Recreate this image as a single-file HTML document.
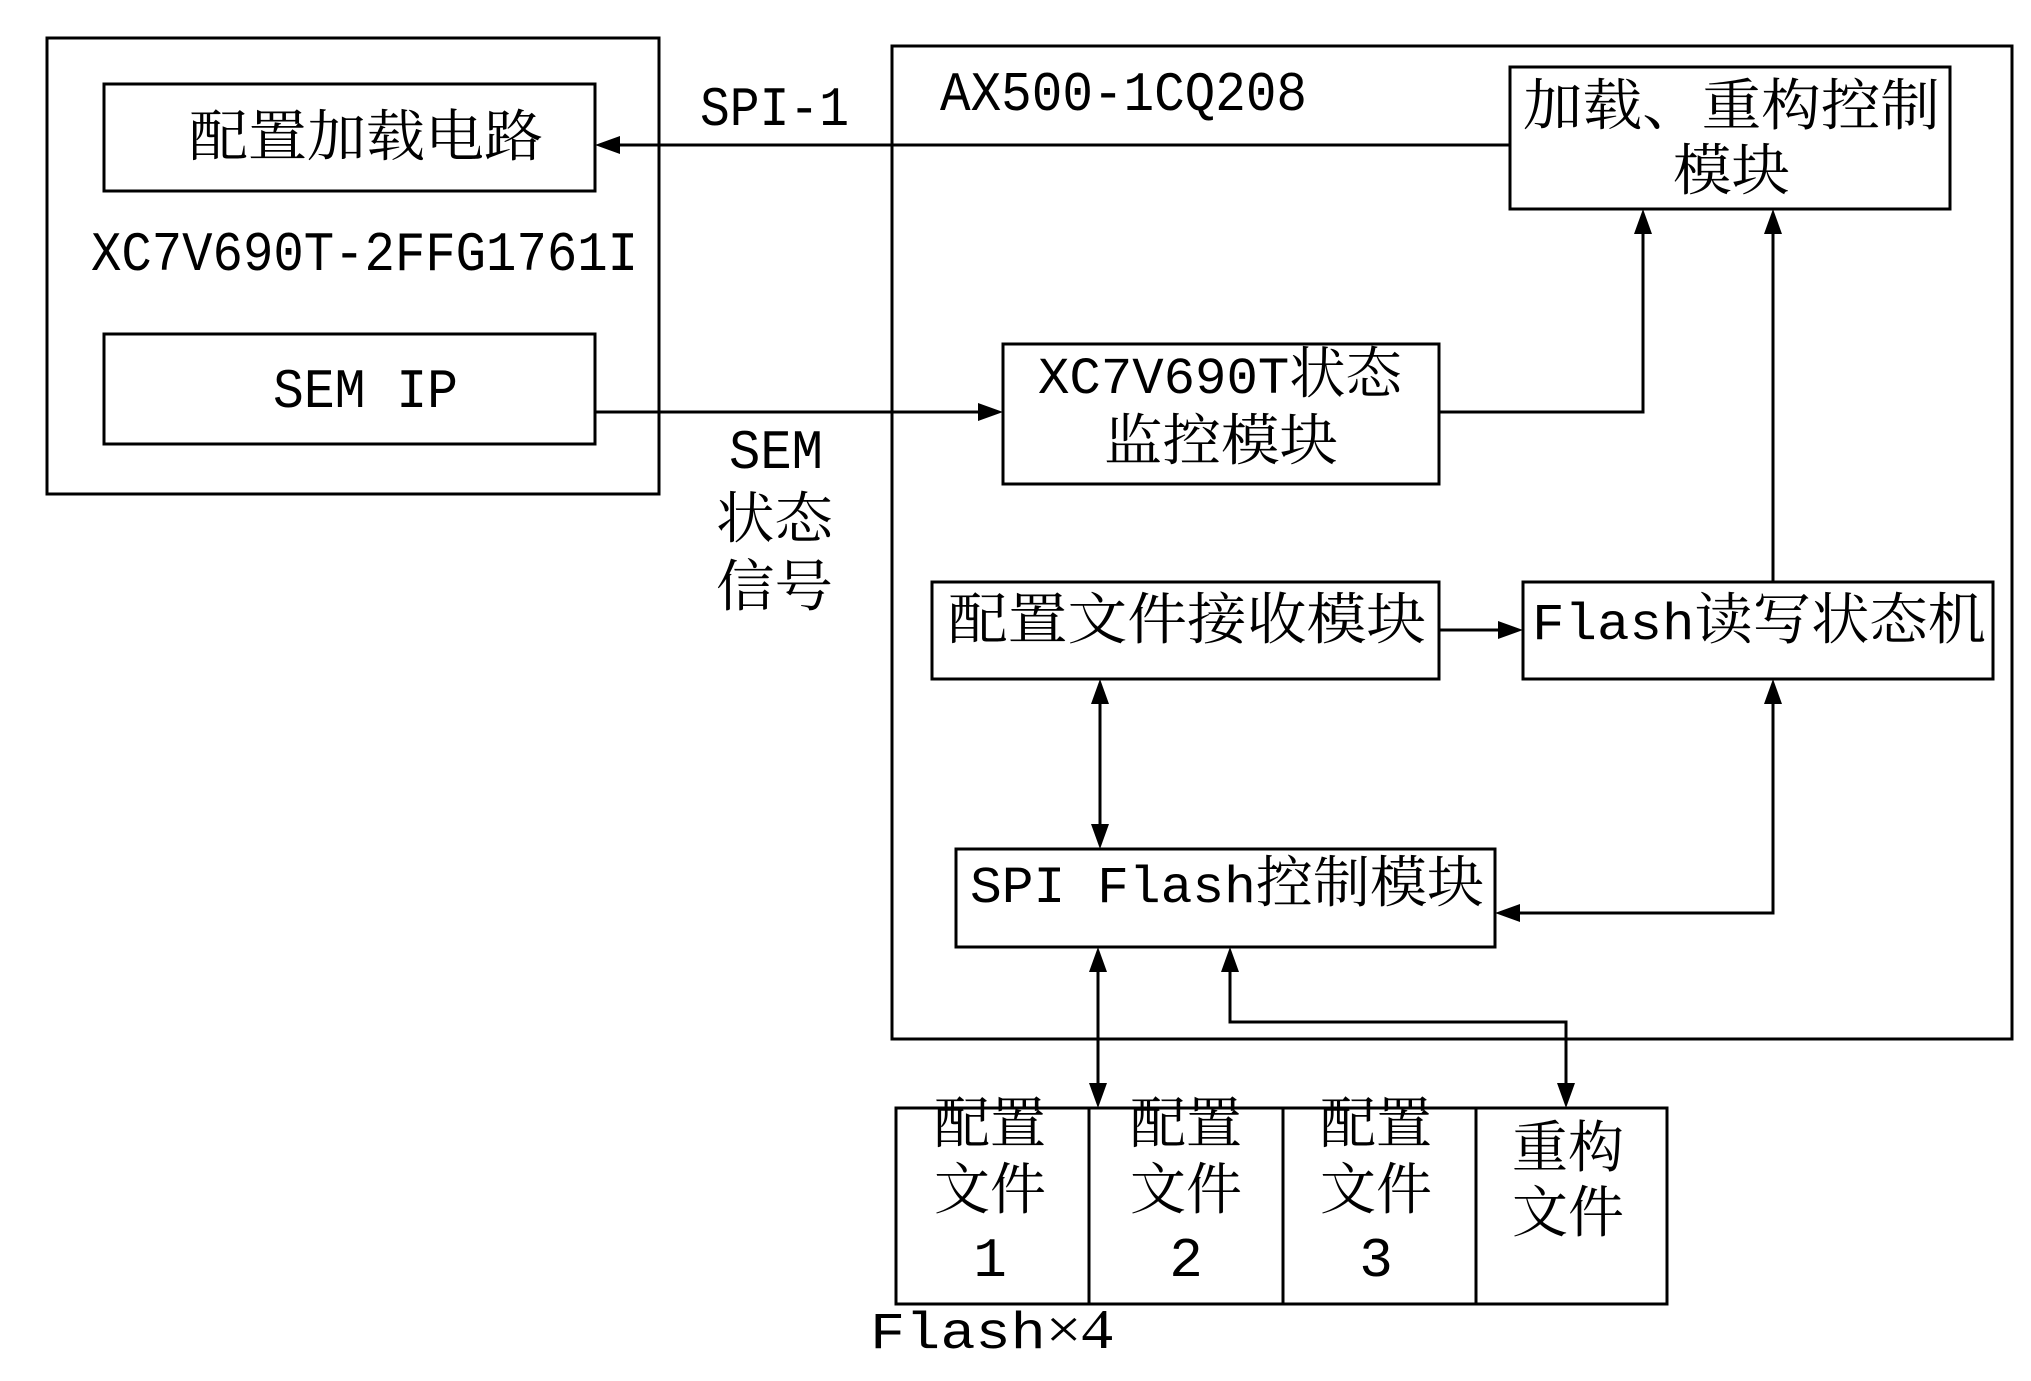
<!DOCTYPE html>
<html><head><meta charset="utf-8"><style>
html,body{margin:0;padding:0;background:#fff;}
svg{display:block;}
text{font-family:"Liberation Serif","Noto Serif CJK SC","Noto Sans CJK SC",serif;font-size:56px;fill:#000;}
.m{font-family:"Liberation Mono","Noto Serif CJK SC","Noto Sans CJK SC",monospace;}
</style></head><body>
<svg width="2031" height="1381" viewBox="0 0 2031 1381" xmlns="http://www.w3.org/2000/svg">
<defs>
<marker id="a" markerWidth="10" markerHeight="8" refX="10" refY="4" orient="auto-start-reverse" markerUnits="userSpaceOnUse" viewBox="0 0 10 8" style="overflow:visible">
</marker>
</defs>
<g fill="none" stroke="#000" stroke-width="3">
<rect x="47" y="38" width="612" height="456"/>
<rect x="104" y="84" width="491" height="107"/>
<rect x="104" y="334" width="491" height="110"/>
<rect x="892" y="46" width="1120" height="993"/>
<rect x="1510" y="67" width="440" height="142"/>
<rect x="1003" y="344" width="436" height="140"/>
<rect x="932" y="582" width="507" height="97"/>
<rect x="1523" y="582" width="470" height="97"/>
<rect x="956" y="849" width="539" height="98"/>
<rect x="896" y="1108" width="771" height="196"/>
<line x1="1089" y1="1108" x2="1089" y2="1304"/>
<line x1="1283" y1="1108" x2="1283" y2="1304"/>
<line x1="1476" y1="1108" x2="1476" y2="1304"/>
<!-- connectors -->
<polyline points="1510,145 615,145"/>
<polyline points="595,412 983,412"/>
<polyline points="1439,412 1643,412 1643,229"/>
<polyline points="1773,582 1773,229"/>
<polyline points="1439,630 1503,630"/>
<polyline points="1100,699 1100,829"/>
<polyline points="1773,699 1773,913 1515,913"/>
<polyline points="1098,967 1098,1088"/>
<polyline points="1230,967 1230,1022 1566,1022 1566,1088"/>
</g>
<g fill="#000">
<polygon points="595,145 620,136 620,154"/>
<polygon points="1003,412 978,403 978,421"/>
<polygon points="1643,209 1634,234 1652,234"/>
<polygon points="1773,209 1764,234 1782,234"/>
<polygon points="1523,630 1498,621 1498,639"/>
<polygon points="1100,679 1091,704 1109,704"/>
<polygon points="1100,849 1091,824 1109,824"/>
<polygon points="1773,679 1764,704 1782,704"/>
<polygon points="1495,913 1520,904 1520,922"/>
<polygon points="1098,947 1089,972 1107,972"/>
<polygon points="1098,1108 1089,1083 1107,1083"/>
<polygon points="1230,947 1221,972 1239,972"/>
<polygon points="1566,1108 1557,1083 1575,1083"/>
</g>
<g>
<text x="189" y="156" textLength="354" lengthAdjust="spacingAndGlyphs">配置加载电路</text>
<text class="m" x="91" y="270" font-size="52" textLength="547" lengthAdjust="spacingAndGlyphs">XC7V690T-2FFG1761I</text>
<text class="m" x="273" y="407" font-size="52" textLength="185" lengthAdjust="spacingAndGlyphs">SEM IP</text>
<text class="m" x="700" y="125" font-size="52" textLength="149" lengthAdjust="spacingAndGlyphs">SPI-1</text>
<text class="m" x="940" y="110" font-size="52" textLength="367" lengthAdjust="spacingAndGlyphs">AX500-1CQ208</text>
<text x="1523" y="125" textLength="417" lengthAdjust="spacingAndGlyphs">加载、重构控制</text>
<text x="1673" y="190" textLength="117" lengthAdjust="spacingAndGlyphs">模块</text>
<text x="1038" y="393" textLength="364" lengthAdjust="spacingAndGlyphs"><tspan class="m" font-size="52">XC7V690T</tspan>状态</text>
<text x="1104" y="460" textLength="234" lengthAdjust="spacingAndGlyphs">监控模块</text>
<text class="m" x="729" y="468" font-size="52" textLength="94" lengthAdjust="spacingAndGlyphs">SEM</text>
<text x="716" y="538" textLength="117" lengthAdjust="spacingAndGlyphs">状态</text>
<text x="716" y="606" textLength="117" lengthAdjust="spacingAndGlyphs">信号</text>
<text x="948" y="639" textLength="478" lengthAdjust="spacingAndGlyphs">配置文件接收模块</text>
<text x="1532" y="639" textLength="454" lengthAdjust="spacingAndGlyphs"><tspan class="m" font-size="52">Flash</tspan>读写状态机</text>
<text x="970" y="902" textLength="514" lengthAdjust="spacingAndGlyphs"><tspan class="m" font-size="52">SPI Flash</tspan>控制模块</text>
<g text-anchor="middle">
<text x="990" y="1143">配置</text><text x="990" y="1209">文件</text><text class="m" x="990" y="1276" font-size="52">1</text>
<text x="1186" y="1143">配置</text><text x="1186" y="1209">文件</text><text class="m" x="1186" y="1276" font-size="52">2</text>
<text x="1376" y="1143">配置</text><text x="1376" y="1209">文件</text><text class="m" x="1376" y="1276" font-size="52">3</text>
<text x="1568" y="1167">重构</text><text x="1568" y="1232">文件</text>
</g>
<text x="870" y="1348" textLength="243" lengthAdjust="spacingAndGlyphs"><tspan class="m" font-size="52">Flash</tspan>×4</text>
</g>
</svg>
</body></html>
